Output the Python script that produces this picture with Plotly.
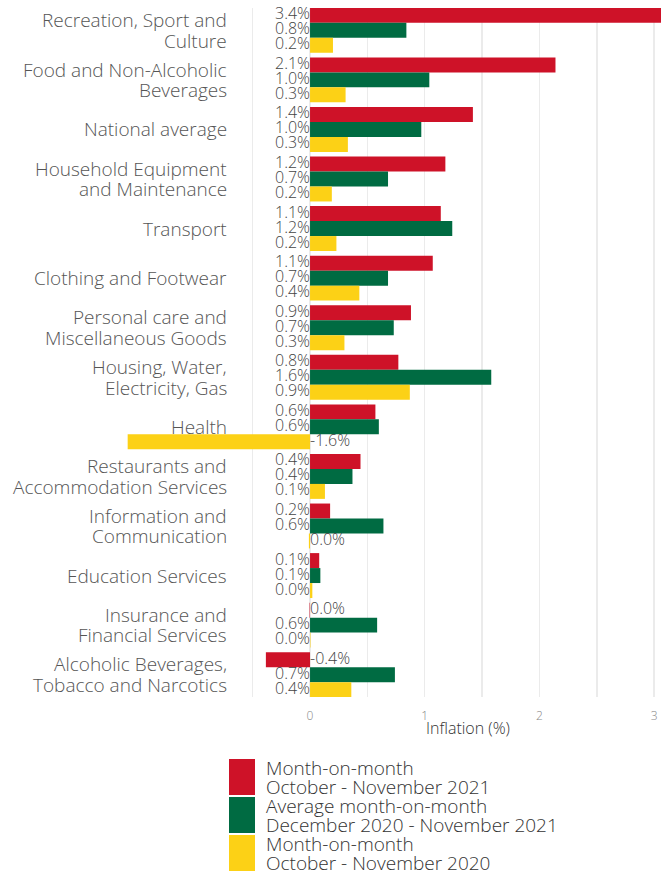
import plotly.graph_objects as go

categories = [
    "Recreation, Sport and<br>Culture",
    "Food and Non-Alcoholic<br>Beverages",
    "National average",
    "Household Equipment<br>and Maintenance",
    "Transport",
    "Clothing and Footwear",
    "Personal care and<br>Miscellaneous Goods",
    "Housing, Water,<br>Electricity, Gas",
    "Health",
    "Restaurants and<br>Accommodation Services",
    "Information and<br>Communication",
    "Education Services",
    "Insurance and<br>Financial Services",
    "Alcoholic Beverages,<br>Tobacco and Narcotics",
]

mom_2021 = [3.40, 2.14, 1.42, 1.18, 1.14, 1.07, 0.88, 0.77, 0.57, 0.44, 0.175, 0.08, -0.004, -0.385]
avg_mom = [0.84, 1.04, 0.97, 0.68, 1.24, 0.68, 0.73, 1.58, 0.60, 0.37, 0.64, 0.09, 0.585, 0.74]
mom_2020 = [0.20, 0.31, 0.33, 0.19, 0.23, 0.43, 0.30, 0.87, -1.59, 0.13, -0.01, 0.02, 0.004, 0.36]

series_names = [
    ["Month-on-month", "October - November 2021"],
    ["Average month-on-month", "December 2020 - November 2021"],
    ["Month-on-month", "October - November 2020"],
]
colors = ["#CE1228", "#006B42", "#FCD116"]

x_tickvals = [-0.5, 0, 0.5, 1, 1.5, 2, 2.5, 3]
x_ticktext = ["", "0", "", "1", "", "2", "", "3"]

FONT = "Open Sans"
W, H = 661, 874
L, R, T, B = 124, 0, 8, 874 - 697
PW, PH = W - L - R, H - T - B


def px(x):
    return (x - L) / PW


def py(y):
    return (H - B - y) / PH


def fmt(v):
    r = round(v, 1)
    if r == 0:
        r = 0.0
    return f"{abs(r) if r == 0 else r:.1f}%"


bw = 0.302
offsets = [-bw, 0, bw]
series = [mom_2021, avg_mom, mom_2020]
idx = list(range(len(categories)))

fig = go.Figure()
for k, vals in enumerate(series):
    ys = [i + offsets[k] for i in idx]
    fig.add_trace(go.Bar(
        x=vals, y=ys, orientation="h", width=bw,
        marker=dict(color=colors[k], line=dict(width=0)),
        showlegend=False, hoverinfo="skip",
    ))
    fig.add_trace(go.Scatter(
        x=[0] * len(vals), y=ys, mode="text",
        text=[fmt(v) for v in vals],
        textposition=["middle left" if v > 0 else "middle right" for v in vals],
        textfont=dict(family=FONT, size=16, color="#444444", weight=300),
        cliponaxis=False, showlegend=False, hoverinfo="skip",
    ))

fig.update_layout(
    width=W, height=H,
    margin=dict(l=L, r=R, t=T, b=B, pad=0),
    paper_bgcolor="white", plot_bgcolor="white",
    barmode="overlay",
    font=dict(family=FONT, color="#4d4d4d"),
    xaxis=dict(
        range=[-1.622, 3.06], tickvals=x_tickvals, ticktext=x_ticktext,
        showgrid=True, gridcolor="#ebebeb", gridwidth=1.5, zeroline=False,
        showline=False, ticks="", ticklabelstandoff=10,
        tickfont=dict(family=FONT, size=12, color="#888888", weight=300),
    ),
    yaxis=dict(
        range=[13.45, -0.45], showticklabels=False,
        showgrid=False, zeroline=False, showline=False, ticks="",
    ),
)

# category labels (one annotation per line for tight line spacing)
for i, cat in enumerate(categories):
    lines = cat.split("<br>")
    n = len(lines)
    for j, line in enumerate(lines):
        fig.add_annotation(
            x=px(229), xref="paper", y=i, yref="y",
            yshift=((n - 1) / 2 - j) * 20.5,
            text=line, showarrow=False, xanchor="right", yanchor="middle",
            font=dict(family=FONT, size=19, color="#555555", weight=300),
        )

fig.add_annotation(
    x=px(468), y=py(728), xref="paper", yref="paper", text="Inflation (%)",
    showarrow=False, xanchor="center", yanchor="middle",
    font=dict(family=FONT, size=16, color="#333333", weight=300),
)

# manual legend
for k in range(3):
    top = 759 + 38 * k
    fig.add_shape(type="rect", xref="paper", yref="paper",
                  x0=px(229), x1=px(255), y0=py(top), y1=py(top + 36),
                  fillcolor=colors[k], line=dict(width=0))
    for j, line in enumerate(series_names[k]):
        fig.add_annotation(
            x=px(264), y=py(top + 9 + 19 * j), xref="paper", yref="paper",
            text=line, showarrow=False, xanchor="left", yanchor="middle",
            font=dict(family=FONT, size=19, color="#333333", weight=300),
        )

fig.write_html(
    "out.html",
    config={"staticPlot": True, "displayModeBar": False},
    post_script="document.body.style.margin='0px';"
                "document.body.style.overflow='hidden';"
                "document.documentElement.style.overflow='hidden';",
)
